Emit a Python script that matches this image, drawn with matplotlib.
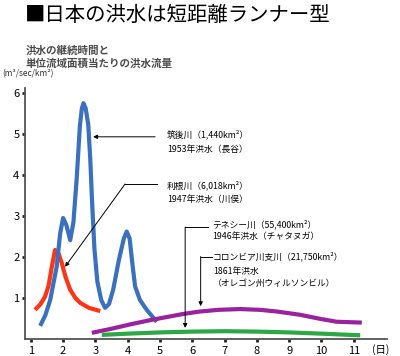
import matplotlib
matplotlib.use('Agg')
import matplotlib.pyplot as plt

plt.rcParams['font.family'] = ['Noto Sans CJK JP', 'DejaVu Sans']

# flood hydrographs: day, discharge per unit area (m3/sec/km2)
chikugo_day = [1.29, 1.45, 1.60, 1.80, 1.91, 2.00, 2.10, 2.22, 2.32, 2.42, 2.52, 2.58, 2.63, 2.70,
               2.78, 2.84, 2.90, 2.97, 3.06, 3.18, 3.30, 3.42, 3.55, 3.72, 3.88, 3.97, 4.06, 4.15,
               4.23, 4.38, 4.60, 4.90]
chikugo_q = [0.32, 0.58, 0.95, 1.76, 2.58, 2.95, 2.78, 2.41, 2.85, 3.90, 5.20, 5.62, 5.75, 5.62,
             5.22, 4.40, 3.30, 2.20, 1.40, 0.95, 0.76, 0.85, 1.20, 1.90, 2.45, 2.62, 2.45, 1.80,
             1.28, 0.95, 0.70, 0.42]

tone_day = [1.13, 1.30, 1.44, 1.55, 1.65, 1.75, 1.85, 1.96, 2.08, 2.22, 2.38, 2.53, 2.80, 3.15]
tone_q = [0.71, 0.85, 1.03, 1.30, 1.76, 2.17, 2.10, 1.85, 1.50, 1.20, 1.00, 0.88, 0.76, 0.68]

tennessee_day = [2.89, 3.50, 4.10, 4.70, 5.31, 5.72, 6.24, 6.80, 7.48, 8.10, 8.62, 9.34, 9.90, 10.47, 11.25]
tennessee_q = [0.15, 0.25, 0.36, 0.46, 0.55, 0.61, 0.67, 0.71, 0.73, 0.71, 0.67, 0.59, 0.50, 0.42, 0.40]

columbia_day = [3.20, 4.00, 5.00, 6.00, 7.00, 8.00, 9.00, 10.00, 11.20]
columbia_q = [0.10, 0.13, 0.16, 0.18, 0.19, 0.18, 0.16, 0.13, 0.09]

x_ticks = list(range(1, 12))
y_ticks = [1, 2, 3, 4, 5, 6]

fig = plt.figure(figsize=(4.0, 3.56), dpi=100)
ax = fig.add_axes([0.0625, 0.0478, 0.905, 0.705])

lw = 3.0
ax.plot(tone_day, tone_q, color='#ff3414', lw=lw, solid_capstyle='butt')
ax.plot(chikugo_day, chikugo_q, color='#3a70bd', lw=lw, solid_capstyle='butt')
ax.plot(tennessee_day, tennessee_q, color='#9b229f', lw=lw, solid_capstyle='butt')
ax.plot(columbia_day, columbia_q, color='#2ca845', lw=lw, solid_capstyle='butt')

ax.set_xlim(0.82, 12.03)
ax.set_ylim(0, 6.12)
ax.set_xticks(x_ticks)
ax.set_yticks(y_ticks)
ax.tick_params(axis='both', length=2, width=2, color='#222222', labelsize=8)
ax.tick_params(axis='x', pad=3)
ax.tick_params(axis='y', pad=2)
for s in ['top', 'right']:
    ax.spines[s].set_visible(False)
for s in ['left', 'bottom']:
    ax.spines[s].set_color('#555555')
    ax.spines[s].set_linewidth(1.3)

fs = 6.3
arrow = dict(arrowstyle='-|>', color='black', lw=0.7, mutation_scale=6, shrinkA=0, shrinkB=0)

# 筑後川
ax.annotate('', xy=(2.93, 4.93), xytext=(4.85, 4.93), arrowprops=arrow)
ax.text(5.22, 4.98, '筑後川（1,440km²）', fontsize=fs, va='center')
ax.text(5.22, 4.63, '1953年洪水（長谷）', fontsize=fs, va='center')

# 利根川
ax.plot([4.90, 3.92], [3.78, 3.78], color='black', lw=0.7)
ax.annotate('', xy=(2.06, 1.76), xytext=(3.92, 3.78), arrowprops=arrow)
ax.text(5.22, 3.75, '利根川（6,018km²）', fontsize=fs, va='center')
ax.text(5.22, 3.40, '1947年洪水（川俣）', fontsize=fs, va='center')

# テネシー川
ax.plot([6.49, 5.78], [2.73, 2.73], color='black', lw=0.7)
ax.annotate('', xy=(5.78, 0.27), xytext=(5.78, 2.73), arrowprops=arrow)
ax.text(6.62, 2.80, 'テネシー川（55,400km²）', fontsize=fs, va='center')
ax.text(6.62, 2.49, '1946年洪水（チャタヌガ）', fontsize=fs, va='center')

# コロンビア川支川
ax.plot([6.60, 6.26], [2.01, 2.01], color='black', lw=0.7)
ax.annotate('', xy=(6.26, 0.80), xytext=(6.26, 2.01), arrowprops=arrow)
ax.text(6.64, 2.02, 'コロンビア川支川（21,750km²）', fontsize=fs, va='center')
ax.text(6.64, 1.64, '1861年洪水', fontsize=fs, va='center')
ax.text(6.64, 1.36, '（オレゴン州ウィルソンビル）', fontsize=fs, va='center')

# titles
fig.text(25 / 400, 1 - 15 / 356, '■日本の洪水は短距離ランナー型', fontsize=14.7, va='center', ha='left')
fig.text(26 / 400, 1 - 50 / 356, '洪水の継続時間と', fontsize=7.6, va='center', color='#4a4a4a', fontweight='bold')
fig.text(26 / 400, 1 - 63 / 356, '単位流域面積当たりの洪水流量', fontsize=7.6, va='center', color='#4a4a4a', fontweight='bold')
fig.text(2 / 400, 1 - 74 / 356, '(m³/sec/km²)', fontsize=6.0, va='center', color='#333333')
fig.text(372 / 400, 1 - 350 / 356, '(日)', fontsize=7.5, va='center')

fig.savefig('out.png', dpi=100)
